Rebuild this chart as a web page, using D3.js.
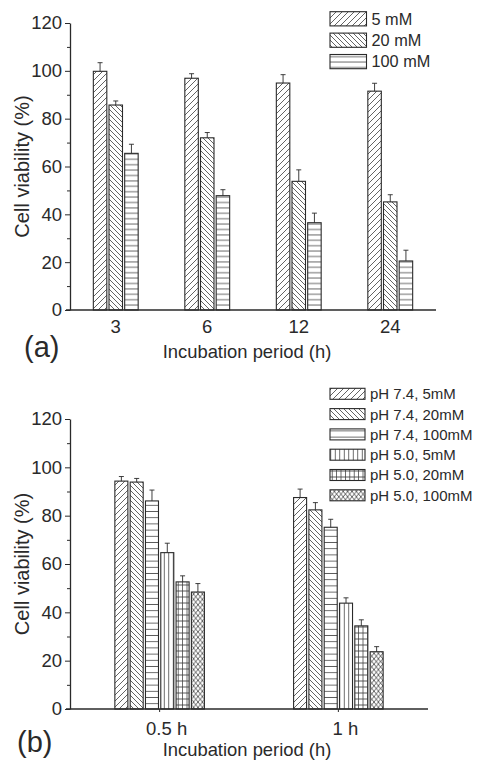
<!DOCTYPE html>
<html>
<head>
<meta charset="utf-8">
<script src="https://cdn.jsdelivr.net/npm/d3@7"></script>
<style>
html, body { margin: 0; padding: 0; background: #fff; }
svg { display: block; font-family: "Liberation Sans", Arial, sans-serif; }
</style>
</head>
<body>
<svg id="chart" width="478" height="761"></svg>
<script>
// (a) incubation period, three concentrations
const periodsA = ['3', '6', '12', '24']
const concA = ['5 mM', '20 mM', '100 mM']
const mean5 = [99.8, 96.9, 94.9, 91.5]
const sd5 = [3.6, 1.9, 3.5, 3.3]
const mean20 = [85.7, 72.0, 53.8, 45.2]
const sd20 = [1.7, 2.2, 4.8, 3.0]
const mean100 = [65.5, 47.8, 36.5, 20.5]
const sd100 = [3.8, 2.5, 4.0, 4.5]

// (b) pH 7.4 vs pH 5.0
const periodsB = ['0.5 h', '1 h']
const condB = ['pH 7.4, 5mM', 'pH 7.4, 20mM', 'pH 7.4, 100mM', 'pH 5.0, 5mM', 'pH 5.0, 20mM', 'pH 5.0, 100mM']
const mean74_5 = [94.3, 87.5]
const sd74_5 = [1.9, 3.5]
const mean74_20 = [93.9, 82.4]
const sd74_20 = [1.5, 3.0]
const mean74_100 = [86.1, 75.2]
const sd74_100 = [4.5, 3.3]
const mean50_5 = [64.7, 43.8]
const sd50_5 = [3.9, 2.2]
const mean50_20 = [52.6, 34.4]
const sd50_20 = [2.5, 2.5]
const mean50_100 = [48.4, 23.7]
const sd50_100 = [3.5, 2.1]

const yTicks = [0, 20, 40, 60, 80, 100, 120]
const yMinor = [10, 30, 50, 70, 90, 110]

const svg = d3.select('#chart')
const ink = '#2a2a2a'
const defs = svg.append('defs')

function hatch(id, w, h, d) {
    defs.append('pattern')
        .attr('id', id)
        .attr('patternUnits', 'userSpaceOnUse')
        .attr('width', w)
        .attr('height', h)
        .append('path')
        .attr('d', d)
        .attr('fill', 'none')
        .attr('stroke', '#3c3c3c')
        .attr('stroke-width', 0.8)
}
hatch('fwd', 6, 6, 'M0,6L6,0M-1,1L1,-1M5,7L7,5')
hatch('back', 5, 5, 'M0,0L5,5M-1,4L1,6M4,-1L6,1')
hatch('horizA', 6, 5.4, 'M0,2.7H6')
hatch('horizB', 6, 6.2, 'M0,3.1H6')
hatch('vert', 4.5, 6, 'M2.25,0V6')
hatch('grid', 4.4, 6, 'M2.2,0V6M0,3H4.4')
hatch('cross', 4.4, 5.4, 'M0,0L4.4,5.4M0,5.4L4.4,0')

function panel(cfg) {
    let y = d3.scaleLinear().domain([0, 120]).range([cfg.yBottom, cfg.yTop]),
        x0 = d3.scaleBand().domain(cfg.cats).range([70, cfg.xEnd])
            .paddingInner(cfg.padIn).paddingOuter(cfg.padOut),
        x1 = d3.scaleBand().domain(cfg.names).range([0, x0.bandwidth()]).paddingInner(cfg.barPad),
        g = svg.append('g')

    // bars + error bars
    cfg.cats.forEach((c, i) => {
        cfg.names.forEach((n, j) => {
            let v = cfg.means[j][i],
                e = cfg.sds[j][i],
                bx = x0(c) + x1(n),
                bw = x1.bandwidth(),
                cx = bx + bw / 2
            g.append('rect')
                .attr('x', bx).attr('y', y(v))
                .attr('width', bw).attr('height', y(0) - y(v))
                .attr('fill', 'url(#' + cfg.fills[j] + ')')
                .attr('stroke', ink).attr('stroke-width', 1.1)
            g.append('line')
                .attr('x1', cx).attr('x2', cx).attr('y1', y(v)).attr('y2', y(v + e))
                .attr('stroke', ink).attr('stroke-width', 0.9)
            g.append('line')
                .attr('x1', cx - 2.5).attr('x2', cx + 2.5).attr('y1', y(v + e)).attr('y2', y(v + e))
                .attr('stroke', ink).attr('stroke-width', 0.9)
        })
    })

    // y axis
    let ya = g.append('g').attr('transform', 'translate(70,0)')
        .call(d3.axisLeft(y).tickValues(yTicks).tickSize(5).tickPadding(3).tickSizeOuter(0))
    ya.append('g').call(d3.axisLeft(y).tickValues(yMinor).tickSize(3).tickFormat('').tickSizeOuter(0))
        .select('.domain').remove()
    ya.selectAll('text').attr('font-size', 18.5).attr('fill', ink)

    // x axis
    let xa = g.append('g').attr('transform', 'translate(0,' + cfg.yBottom + ')')
        .call(d3.axisBottom(x0).tickSize(cfg.xTick).tickPadding(cfg.xPad).tickSizeOuter(0))
    xa.select('.domain').attr('d', 'M66,0H' + cfg.xEnd).attr('stroke-width', 1.3)
    xa.selectAll('text').attr('font-size', 18.5).attr('fill', ink).attr('dx', cfg.labelDx)

    g.selectAll('.domain, .tick line').attr('stroke', ink)
    g.selectAll('.tick text').attr('font-family', null)
    ya.select('.domain').attr('stroke-width', 1.3)

    // titles
    g.append('text')
        .attr('transform', 'translate(29,' + (cfg.yBottom + cfg.yTop) / 2 + ') rotate(-90)')
        .attr('text-anchor', 'middle').attr('font-size', 20).attr('fill', ink)
        .text('Cell viability (%)')
    g.append('text')
        .attr('x', 247).attr('y', cfg.titleY)
        .attr('text-anchor', 'middle').attr('font-size', 18.4).attr('fill', ink)
        .text('Incubation period (h)')
    g.append('text')
        .attr('x', cfg.tagX).attr('y', cfg.tagY)
        .attr('font-size', 29).attr('fill', ink)
        .text(cfg.tag)

    // legend
    cfg.names.forEach((n, j) => {
        let ly = cfg.legTop + j * cfg.legStep
        g.append('rect')
            .attr('x', 330).attr('y', ly)
            .attr('width', cfg.legW).attr('height', cfg.legH)
            .attr('fill', 'url(#' + cfg.fills[j] + ')')
            .attr('stroke', ink).attr('stroke-width', 1.1)
        g.append('text')
            .attr('x', 330 + cfg.legW + 5).attr('y', ly + cfg.legH / 2)
            .attr('dy', '0.36em').attr('font-size', cfg.legFont).attr('fill', ink)
            .text(n)
    })
}

panel({
    cats: periodsA,
    names: concA,
    means: [mean5, mean20, mean100],
    sds: [sd5, sd20, sd100],
    fills: ['fwd', 'back', 'horizA'],
    yTop: 23, yBottom: 310, xEnd: 436,
    padIn: 0.51, padOut: 0.255, barPad: 0.14,
    xTick: 0, xPad: 9.5, labelDx: 0,
    titleY: 358, tag: '(a)', tagX: 24, tagY: 357,
    legTop: 11.7, legStep: 21.4, legW: 36.5, legH: 14.2, legFont: 16.3
})

panel({
    cats: periodsB,
    names: condB,
    means: [mean74_5, mean74_20, mean74_100, mean50_5, mean50_20, mean50_100],
    sds: [sd74_5, sd74_20, sd74_100, sd50_5, sd50_20, sd50_100],
    fills: ['fwd', 'back', 'horizB', 'vert', 'grid', 'cross'],
    yTop: 419, yBottom: 709, xEnd: 428,
    padIn: 0.499, padOut: 0.251, barPad: 0.15,
    xTick: 3, xPad: 9.5, labelDx: 7,
    titleY: 756, tag: '(b)', tagX: 17, tagY: 752,
    legTop: 388.3, legStep: 20.3, legW: 35, legH: 11, legFont: 15
})
</script>
</body>
</html>
